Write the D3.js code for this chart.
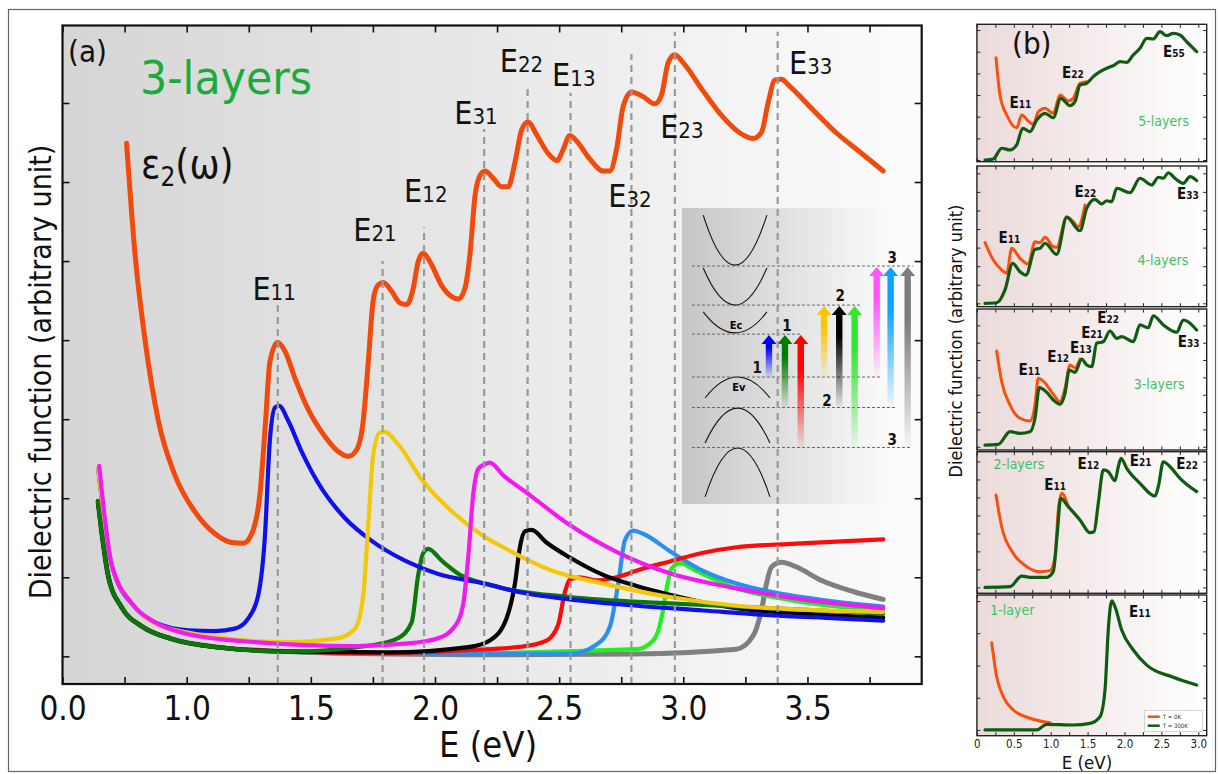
<!DOCTYPE html>
<html>
<head>
<meta charset="utf-8">
<script src="https://cdn.jsdelivr.net/npm/d3@7"></script>
<style>
body { margin: 0; background: #fff; }
svg { display: block; }
</style>
</head>
<body>
<div id="chart"></div>
<script>
"use strict";

// ---- panel (a): 3-layers, eps2 and the partial transition spectra ----
const aTickValues = [0.5, 1.0, 1.5, 2.0, 2.5, 3.0, 3.5];
const aTickLabels = ['0.0', '1.0', '1.5', '2.0', '2.5', '3.0', '3.5'];

const aOrange = [[0.758,6.49],[0.792,5.09],[0.832,4.01],[0.886,2.98],[0.953,2.29],[1.033,1.83],[1.114,1.55],[1.181,1.44],[1.228,1.43],[1.262,1.55],[1.295,2.05],[1.318,2.98],[1.335,3.72],[1.366,3.97],[1.396,3.86],[1.436,3.52],[1.490,3.12],[1.557,2.78],[1.610,2.59],[1.651,2.53],[1.684,2.61],[1.711,2.98],[1.731,3.71],[1.751,4.50],[1.769,4.69],[1.792,4.73],[1.825,4.62],[1.859,4.47],[1.886,4.45],[1.912,4.65],[1.932,4.99],[1.953,5.10],[1.980,4.99],[2.027,4.69],[2.067,4.55],[2.093,4.52],[2.120,4.65],[2.141,5.09],[2.161,5.82],[2.181,6.08],[2.201,6.14],[2.234,6.05],[2.268,5.94],[2.295,5.94],[2.322,6.25],[2.349,6.66],[2.375,6.76],[2.409,6.60],[2.456,6.36],[2.492,6.27],[2.516,6.41],[2.543,6.59],[2.570,6.52],[2.624,6.29],[2.677,6.14],[2.704,6.14],[2.731,6.41],[2.758,6.96],[2.792,7.14],[2.838,7.08],[2.885,6.99],[2.912,7.10],[2.939,7.51],[2.966,7.61],[2.999,7.51],[3.080,7.15],[3.160,6.82],[3.228,6.62],[3.281,6.55],[3.315,6.63],[3.342,7.01],[3.369,7.29],[3.395,7.30],[3.429,7.21],[3.523,6.91],[3.617,6.62],[3.711,6.38],[3.805,6.14]];

const aBlue = [[0.644,2.37],[0.698,1.16],[0.792,0.62],[0.872,0.43],[1.006,0.33],[1.114,0.32],[1.194,0.35],[1.248,0.48],[1.288,0.77],[1.315,1.51],[1.335,2.73],[1.356,3.15],[1.372,3.17],[1.409,2.98],[1.463,2.59],[1.544,2.12],[1.637,1.75],[1.745,1.46],[1.879,1.21],[2.013,1.04],[2.201,0.92],[2.342,0.81],[2.543,0.72],[2.812,0.64],[3.080,0.58],[3.348,0.52],[3.617,0.48],[3.805,0.45]];

const aYellow = [[0.644,2.37],[0.698,1.16],[0.779,0.67],[0.872,0.42],[1.006,0.30],[1.208,0.21],[1.409,0.18],[1.610,0.23],[1.678,0.35],[1.711,0.77],[1.731,1.65],[1.751,2.54],[1.778,2.83],[1.798,2.84],[1.852,2.68],[1.946,2.24],[2.080,1.80],[2.201,1.51],[2.275,1.38],[2.476,1.08],[2.677,0.92],[2.946,0.75],[3.214,0.64],[3.482,0.59],[3.805,0.56]];

const aMagenta = [[0.648,2.41],[0.698,1.16],[0.779,0.67],[0.872,0.43],[1.006,0.28],[1.275,0.18],[1.678,0.13],[1.879,0.16],[2.013,0.23],[2.080,0.38],[2.114,0.67],[2.134,1.26],[2.154,2.05],[2.174,2.37],[2.201,2.43],[2.221,2.45],[2.275,2.29],[2.382,2.04],[2.543,1.66],[2.745,1.30],[2.946,1.05],[3.214,0.86],[3.482,0.72],[3.805,0.61]];

// shared steep low-energy part of the weaker transitions
const aLowTail = [[0.643,1.96],[0.684,1.02],[0.738,0.62],[0.819,0.38],[0.94,0.22],[1.141,0.11],[1.409,0.06]];

const aDkGreen = aLowTail.concat([[1.745,0.14],[1.852,0.23],[1.906,0.43],[1.932,1.02],[1.953,1.31],[1.973,1.36],[2.027,1.21],[2.107,1.02],[2.201,0.92],[2.275,0.86],[2.543,0.75],[2.946,0.67],[3.348,0.61],[3.805,0.54]]);
const aBlack = aLowTail.concat([[1.812,0.05],[2.141,0.12],[2.221,0.20],[2.288,0.48],[2.322,0.92],[2.342,1.38],[2.362,1.58],[2.389,1.60],[2.449,1.44],[2.543,1.25],[2.677,1.03],[2.812,0.89],[2.946,0.78],[3.214,0.61],[3.482,0.54],[3.805,0.49]]);
const aRed = aLowTail.concat([[1.812,0.04],[2.141,0.08],[2.342,0.12],[2.449,0.20],[2.496,0.40],[2.523,0.81],[2.543,0.97],[2.583,1.00],[2.651,0.96],[2.731,1.00],[2.838,1.11],[2.946,1.20],[3.080,1.31],[3.214,1.38],[3.416,1.42],[3.617,1.45],[3.805,1.48]]);
const aSky = aLowTail.concat([[1.812,0.03],[2.543,0.03],[2.651,0.15],[2.704,0.37],[2.738,0.92],[2.765,1.47],[2.798,1.59],[2.838,1.55],[2.946,1.33],[3.080,1.08],[3.214,0.92],[3.416,0.78],[3.617,0.69],[3.805,0.63]]);
const aLime = aLowTail.concat([[1.812,0.03],[2.812,0.09],[2.879,0.20],[2.912,0.48],[2.933,0.86],[2.953,1.11],[2.986,1.18],[3.053,1.08],[3.214,0.86],[3.416,0.72],[3.617,0.63],[3.805,0.58]]);
const aGray = aLowTail.concat([[1.812,0.03],[2.201,0.02],[2.8,0.03],[3.214,0.09],[3.281,0.26],[3.315,0.59],[3.335,0.92],[3.355,1.13],[3.395,1.19],[3.456,1.13],[3.550,0.97],[3.684,0.82],[3.805,0.72]]);

// transition energies (dashed lines) and how high each line goes
const transNames = ['11', '21', '12', '31', '22', '13', '32', '23', '33'];
const transEnergy = [1.367, 1.789, 1.956, 2.198, 2.373, 2.546, 2.791, 2.966, 3.380];
const transTop = [4.45, 5.0, 5.43, 6.67, 7.22, 7.13, 7.62, 7.9, 7.9];

// ---- panel (b): T = 0K (orange) and T = 300K (green) for 5..1 layers ----
const bTickValues = [0, 0.5, 1.0, 1.5, 2.0, 2.5, 3.0];
const bTickLabels = ['0', '0.5', '1.0', '1.5', '2.0', '2.5', '3.0'];

const b5Orange = [[0.259,7.57],[0.313,4.85],[0.404,3.40],[0.539,2.47],[0.607,3.40],[0.696,2.96],[0.764,2.72],[0.832,3.64],[0.923,3.89],[1.035,3.52],[1.126,4.85],[1.238,4.42],[1.306,4.61],[1.397,5.71],[1.488,5.82]];
const b5Green = [[0.110,0.12],[0.222,0.20],[0.336,0.98],[0.449,0.85],[0.539,1.22],[0.621,2.43],[0.720,2.18],[0.810,3.03],[0.923,3.52],[1.035,3.20],[1.136,4.61],[1.262,4.08],[1.329,4.37],[1.397,5.58],[1.488,5.71],[1.577,6.19],[1.668,6.55],[1.759,6.80],[1.848,6.99],[1.939,7.28],[2.030,7.23],[2.119,7.77],[2.210,8.25],[2.301,8.98],[2.390,8.93],[2.481,9.46],[2.572,9.17],[2.661,9.34],[2.752,9.22],[2.843,8.73],[2.978,8.01]];

const b4Orange = [[0.110,4.55],[0.222,3.32],[0.336,2.61],[0.404,2.37],[0.472,4.15],[0.584,3.44],[0.696,3.03],[0.787,4.62],[0.855,4.55],[0.923,4.93],[1.035,4.26],[1.081,4.22],[1.217,6.40],[1.306,6.04],[1.374,5.69],[1.465,7.23]];
const b4Green = [[0.110,0.24],[0.268,0.28],[0.381,1.19],[0.485,3.08],[0.584,2.49],[0.665,2.25],[0.787,4.08],[0.855,4.15],[0.923,4.51],[1.081,3.72],[1.217,6.35],[1.397,5.40],[1.488,6.99],[1.600,7.63],[1.691,7.30],[1.759,7.53],[1.827,7.46],[1.894,8.42],[2.074,8.10],[2.210,9.13],[2.369,8.65],[2.458,9.20],[2.526,9.13],[2.593,9.52],[2.684,9.13],[2.797,8.77],[2.888,9.24],[2.978,8.96]];

const b3Orange = [[0.268,7.02],[0.336,4.84],[0.449,3.19],[0.584,2.25],[0.720,2.06],[0.787,3.19],[0.832,5.09],[0.900,4.89],[1.035,3.95],[1.126,3.43],[1.194,4.38],[1.262,6.03],[1.329,5.84],[1.397,6.45]];
const b3Green = [[0.110,0.35],[0.290,0.40],[0.449,1.30],[0.584,1.18],[0.720,1.30],[0.787,2.25],[0.846,4.42],[0.946,4.09],[1.035,3.55],[1.126,3.24],[1.194,4.02],[1.252,5.67],[1.329,5.51],[1.420,6.45],[1.488,6.03],[1.556,5.91],[1.623,7.57],[1.713,7.68],[1.803,8.44],[1.894,7.92],[1.962,8.04],[2.119,7.68],[2.210,8.87],[2.322,8.67],[2.390,9.52],[2.526,8.87],[2.707,8.35],[2.797,9.22],[2.978,8.51]];

const b2Orange = [[0.259,6.94],[0.336,4.70],[0.493,2.82],[0.675,1.88],[0.855,1.53],[0.991,1.60],[1.058,2.58],[1.103,5.88],[1.149,7.06],[1.238,6.12]];
const b2Green = [[0.110,0.42],[0.449,0.47],[0.607,1.22],[0.720,1.13],[0.946,1.13],[1.035,1.53],[1.089,4.24],[1.136,6.71],[1.238,6.12],[1.397,5.18],[1.533,4.28],[1.587,4.35],[1.645,6.36],[1.713,8.71],[1.780,8.59],[1.871,7.95],[1.916,8.94],[1.953,9.53],[2.030,8.83],[2.210,7.77],[2.413,6.87],[2.458,7.53],[2.526,9.29],[2.617,8.94],[2.752,8.12],[2.978,7.18]];

const b1Orange = [[0.201,6.61],[0.268,4.19],[0.358,2.77],[0.493,1.83],[0.720,1.24],[0.991,0.92]];
const b1Green = [[0.110,0.41],[0.810,0.41],[0.946,0.81],[1.306,0.76],[1.533,0.88],[1.668,1.35],[1.736,3.25],[1.780,7.51],[1.827,9.59],[1.871,9.17],[1.962,7.51],[2.119,6.09],[2.301,5.02],[2.661,4.15],[2.978,3.60]];

// ------------------------------------------------------------------
const FONT = "'DejaVu Sans Condensed','DejaVu Sans',sans-serif";
const W = 1218, H = 774;

const svg = d3.select('#chart').append('svg')
	.attr('width', W)
	.attr('height', H)
	.style('font-family', FONT)
	.style('font-stretch', 'condensed');
const defs = svg.append('defs');

function hGrad(id, c0, c1) {
	const g = defs.append('linearGradient').attr('id', id)
		.attr('x1', 0).attr('x2', 1).attr('y1', 0).attr('y2', 0);
	g.append('stop').attr('offset', 0).attr('stop-color', c0);
	g.append('stop').attr('offset', 1).attr('stop-color', c1);
}
hGrad('bgA', '#d5d5d5', '#fcfcfc');
hGrad('bgB', '#ebdada', '#ffffff');
hGrad('bgI', '#c6c6c6', '#fbfbfb');

// outer frame
svg.append('rect')
	.attr('x', 8.5).attr('y', 9.5)
	.attr('width', 1207).attr('height', 762)
	.attr('fill', '#fff').attr('stroke', '#666').attr('stroke-width', 1.2);

// E with small digits, e.g. E11
function eLabel(g, x, y, sub, big, small, weight) {
	const t = g.append('text')
		.attr('x', x).attr('y', y)
		.attr('text-anchor', 'middle')
		.attr('font-weight', weight || 'normal')
		.attr('fill', '#111');
	t.append('tspan').attr('font-size', big).text('E');
	t.append('tspan').attr('font-size', small).text(sub);
	return t;
}

// ================= panel (a) =================
const PA = { left: 62.5, right: 921.7, top: 25.5, bottom: 684 };
const xA = d3.scaleLinear().domain([0.5, 3.96]).range([PA.left, PA.right]);
const yA = d3.scaleLinear().domain([-0.35, 7.98]).range([PA.bottom, PA.top]);

const gA = svg.append('g');
gA.append('rect')
	.attr('x', PA.left).attr('y', PA.top)
	.attr('width', PA.right - PA.left).attr('height', PA.bottom - PA.top)
	.attr('fill', 'url(#bgA)');

defs.append('clipPath').attr('id', 'clipA').append('rect')
	.attr('x', PA.left).attr('y', PA.top)
	.attr('width', PA.right - PA.left).attr('height', PA.bottom - PA.top);

// -- inset: band sketch with the allowed transitions --
const xI = d3.scaleLinear().domain([0, 100]).range([682, 890]);
const yI = d3.scaleLinear().domain([0, 100]).range([208, 504]);
const gI = gA.append('g');
gI.append('rect')
	.attr('x', xI(0)).attr('y', yI(0))
	.attr('width', xI(100) - xI(0)).attr('height', yI(100) - yI(0))
	.attr('fill', 'url(#bgI)');

// conduction bands (vertex, rim) and valence bands (vertex, rim), inset units
const cBands = [[19.3, 2.4], [32.8, 20.3], [42.2, 35.1]];
const vBands = [[57.1, 64.2], [67.6, 79.4], [81.1, 97.6]];
function bandPath(cx, hw, vy, ry) {
	const ctrl = 2 * yI(vy) - yI(ry);
	return `M${xI(cx - hw)},${yI(ry)}Q${xI(cx)},${ctrl} ${xI(cx + hw)},${yI(ry)}`;
}
gI.selectAll('path.cb').data(cBands).enter().append('path')
	.attr('class', 'cb')
	.attr('d', d => bandPath(25.5, 15.3, d[0], d[1]))
	.attr('fill', 'none').attr('stroke', '#111').attr('stroke-width', 1.1);
gI.selectAll('path.vb').data(vBands).enter().append('path')
	.attr('class', 'vb')
	.attr('d', d => bandPath(26.7, 15.6, d[0], d[1]))
	.attr('fill', 'none').attr('stroke', '#111').attr('stroke-width', 1.1);

// level lines: conduction 3,2,1 then valence 1,2,3
const levelY = [19.6, 32.8, 42.6, 57.1, 67.4, 80.9];
const levelEnd = [111, 85.6, 57.7, 95.2, 103.4, 109.6];
gI.selectAll('line.lvl').data(levelY).enter().append('line')
	.attr('class', 'lvl')
	.attr('x1', xI(4.8)).attr('x2', (d, i) => xI(levelEnd[i]))
	.attr('y1', d => yI(d)).attr('y2', d => yI(d))
	.attr('stroke', '#666').attr('stroke-width', 1).attr('stroke-dasharray', '3,2');

// arrows: x (inset units), from valence level, to conduction level, colour
const arrowX = [41.8, 49.5, 57.1, 68.3, 75.6, 83.0, 93.6, 100.3, 108.5];
const arrowFrom = [3, 4, 5, 3, 4, 5, 3, 4, 5];
const arrowTo = [2, 2, 2, 1, 1, 1, 0, 0, 0];
const arrowColor = ['#0000ff', '#007c00', '#ff0000', '#ffc400', '#000000', '#2ee82e', '#ff55ff', '#0ca2ff', '#7d7d7d'];
arrowColor.forEach((c, i) => {
	const gr = defs.append('linearGradient').attr('id', 'arr' + i)
		.attr('x1', 0).attr('x2', 0).attr('y1', 0).attr('y2', 1);
	gr.append('stop').attr('offset', 0).attr('stop-color', c).attr('stop-opacity', 1);
	gr.append('stop').attr('offset', 0.3).attr('stop-color', c).attr('stop-opacity', 1);
	gr.append('stop').attr('offset', 1).attr('stop-color', c).attr('stop-opacity', 0.04);
});
gI.selectAll('path.arr').data(arrowX).enter().append('path')
	.attr('class', 'arr')
	.attr('d', (d, i) => {
		const x = xI(d), yb = yI(levelY[arrowFrom[i]]), yt = yI(levelY[arrowTo[i]]) + 1;
		return `M${x - 3.2},${yb}L${x - 3.2},${yt + 9}L${x - 7.5},${yt + 9}L${x},${yt}L${x + 7.5},${yt + 9}L${x + 3.2},${yt + 9}L${x + 3.2},${yb}Z`;
	})
	.attr('fill', (d, i) => `url(#arr${i})`);

const insetNums = [['1', 36.1, 54.1], ['1', 50.5, 39.9], ['2', 76, 29.7], ['2', 69.7, 65.2], ['3', 101, 16.9], ['3', 101, 78.4]];
gI.selectAll('text.num').data(insetNums).enter().append('text')
	.attr('class', 'num')
	.attr('x', d => xI(d[1])).attr('y', d => yI(d[2]))
	.attr('text-anchor', 'middle').attr('dominant-baseline', 'central')
	.attr('font-size', 15).attr('font-weight', 'bold').attr('fill', '#111')
	.text(d => d[0]);
gI.append('text').attr('x', xI(26)).attr('y', yI(39.6))
	.attr('text-anchor', 'middle').attr('dominant-baseline', 'central')
	.attr('font-size', 11).attr('font-weight', 'bold').text('Ec');
gI.append('text').attr('x', xI(27.3)).attr('y', yI(60.6))
	.attr('text-anchor', 'middle').attr('dominant-baseline', 'central')
	.attr('font-size', 11).attr('font-weight', 'bold').text('Ev');

// -- spectra --
const lineA = d3.line()
	.x(d => xA(d[0]))
	.y(d => yA(d[1]))
	.curve(d3.curveMonotoneX);

const seriesA = [
	{ data: aGray, color: '#7f7f7f', w: 5 },
	{ data: aLime, color: '#22ee22', w: 4.2 },
	{ data: aSky, color: '#2b8ff0', w: 4.2 },
	{ data: aRed, color: '#ff0a0a', w: 4.2 },
	{ data: aBlack, color: '#050505', w: 4.2 },
	{ data: aDkGreen, color: '#0b780b', w: 4.2 },
	{ data: aBlue, color: '#1010e8', w: 4.2 },
	{ data: aYellow, color: '#f2c80a', w: 4.2 },
	{ data: aMagenta, color: '#f21af2', w: 4.2 },
	{ data: aOrange, color: '#f24a0c', w: 5 }
];
const gCurves = gA.append('g').attr('clip-path', 'url(#clipA)');
gCurves.selectAll('path.spec').data(seriesA).enter().append('path')
	.attr('class', 'spec')
	.attr('d', d => lineA(d.data))
	.attr('fill', 'none')
	.attr('stroke', d => d.color)
	.attr('stroke-width', d => d.w)
	.attr('stroke-linejoin', 'round')
	.attr('stroke-linecap', 'round');

// dashed transition lines
gA.selectAll('line.trans').data(transEnergy).enter().append('line')
	.attr('class', 'trans')
	.attr('x1', d => xA(d)).attr('x2', d => xA(d))
	.attr('y1', PA.bottom).attr('y2', (d, i) => yA(transTop[i]))
	.attr('stroke', '#999').attr('stroke-width', 2.2)
	.attr('stroke-dasharray', '7,5');

// transition labels: centre energy, baseline value
const transLabelE = [1.352, 1.758, 1.963, 2.165, 2.348, 2.559, 2.785, 2.994, 3.513];
const transLabelV = [4.51, 5.25, 5.75, 6.73, 7.39, 7.22, 5.68, 6.56, 7.37];
transNames.forEach((n, i) => eLabel(gA, xA(transLabelE[i]), yA(transLabelV[i]), n, 32, 22));

// texts
gA.append('text').attr('x', 68).attr('y', 62).attr('font-size', 31).attr('fill', '#111').text('(a)');
gA.append('text').attr('x', 140).attr('y', 94).attr('font-size', 46)
	.attr('textLength', 172).attr('lengthAdjust', 'spacingAndGlyphs')
	.attr('fill', '#1aab3a').text('3-layers');
const eps = gA.append('text').attr('x', 141).attr('y', 178).attr('font-size', 40).attr('fill', '#111');
eps.append('tspan').text('ε');
eps.append('tspan').attr('font-size', 26).attr('dy', 8).text('2');
eps.append('tspan').attr('dy', -8).text('(ω)');

// axes
const tickStyle = g => {
	g.select('.domain').remove();
	g.selectAll('.tick line').attr('stroke', '#111').attr('stroke-width', 1.6);
};
gA.append('g').attr('transform', `translate(0,${PA.bottom})`)
	.call(d3.axisBottom(xA).tickValues(d3.range(0.5, 3.9, 0.25)).tickSize(-7).tickFormat(''))
	.call(tickStyle);
gA.append('g').attr('transform', `translate(0,${PA.bottom})`)
	.call(d3.axisBottom(xA).tickValues(aTickValues).tickSize(0).tickPadding(13)
		.tickFormat((d, i) => aTickLabels[i]))
	.call(g => g.select('.domain').remove())
	.call(g => g.selectAll('text').attr('font-size', 33).attr('fill', '#111').attr('font-family', FONT));
gA.append('g').attr('transform', `translate(0,${PA.top})`)
	.call(d3.axisTop(xA).tickValues(d3.range(0.5, 3.9, 0.25)).tickSize(-7).tickFormat(''))
	.call(tickStyle);
gA.append('g').attr('transform', `translate(${PA.left},0)`)
	.call(d3.axisLeft(yA).tickValues(d3.range(0, 8)).tickSize(-7).tickFormat(''))
	.call(tickStyle);
gA.append('g').attr('transform', `translate(${PA.right},0)`)
	.call(d3.axisRight(yA).tickValues(d3.range(0, 8)).tickSize(-7).tickFormat(''))
	.call(tickStyle);
gA.append('rect')
	.attr('x', PA.left).attr('y', PA.top)
	.attr('width', PA.right - PA.left).attr('height', PA.bottom - PA.top)
	.attr('fill', 'none').attr('stroke', '#111').attr('stroke-width', 2.2);

gA.append('text').attr('x', 488).attr('y', 757)
	.attr('text-anchor', 'middle').attr('font-size', 36).attr('fill', '#111').text('E (eV)');
gA.append('text')
	.attr('transform', 'translate(40,372) rotate(-90)')
	.attr('text-anchor', 'middle').attr('dominant-baseline', 'central')
	.attr('font-size', 30).attr('fill', '#111')
	.text('Dielectric function (arbitrary unit)');

// ================= panel (b) =================
const PB = { left: 976.9, right: 1206.7 };
const xB = d3.scaleLinear().domain([0, 3.114]).range([PB.left, PB.right]);

const layersB = [
	{ top: 24.3, bottom: 161.7, orange: b5Orange, green: b5Green, t0: 0.12, step: 1.577,
		name: '5-layers', nameAt: [2.53, 2.60], marks: [['11', 0.59, 3.91], ['22', 1.30, 6.09], ['55', 2.67, 7.62]] },
	{ top: 166, bottom: 306.7, orange: b4Orange, green: b4Green, t0: 0.24, step: 1.32,
		name: '4-layers', nameAt: [2.52, 2.96], marks: [['11', 0.44, 4.55], ['22', 1.47, 7.82], ['33', 2.86, 7.63]] },
	{ top: 309, bottom: 450, orange: b3Orange, green: b3Green, t0: 0.23, step: 1.23,
		name: '3-layers', nameAt: [2.47, 4.33], marks: [['11', 0.71, 5.32], ['12', 1.10, 6.24], ['13', 1.41, 6.88], ['21', 1.56, 7.94], ['22', 1.78, 9.01], ['33', 2.87, 7.30]] },
	{ top: 451.7, bottom: 593.3, orange: b2Orange, green: b2Green, t0: 0.42, step: 1.27,
		name: '2-layers', nameAt: [0.57, 8.78], marks: [['11', 1.06, 7.30], ['12', 1.51, 8.78], ['21', 2.22, 8.99], ['22', 2.85, 8.78]] },
	{ top: 595, bottom: 735.7, orange: b1Orange, green: b1Green, t0: 0.41, step: 2.29,
		name: '1-layer', nameAt: [0.48, 8.58], marks: [['11', 2.21, 8.44]] }
];

const gB = svg.append('g');
layersB.forEach((L, k) => {
	const yB = d3.scaleLinear().domain([0, 10]).range([L.bottom, L.top]);
	const g = gB.append('g');
	g.append('rect')
		.attr('x', PB.left).attr('y', L.top)
		.attr('width', PB.right - PB.left).attr('height', L.bottom - L.top)
		.attr('fill', 'url(#bgB)');
	defs.append('clipPath').attr('id', 'clipB' + k).append('rect')
		.attr('x', PB.left).attr('y', L.top)
		.attr('width', PB.right - PB.left).attr('height', L.bottom - L.top);

	const lineB = d3.line().x(d => xB(d[0])).y(d => yB(d[1])).curve(d3.curveMonotoneX);
	const gc = g.append('g').attr('clip-path', `url(#clipB${k})`);
	gc.append('path').attr('d', lineB(L.orange))
		.attr('fill', 'none').attr('stroke', '#f7500f').attr('stroke-width', 3).attr('stroke-linecap', 'round');
	gc.append('path').attr('d', lineB(L.green))
		.attr('fill', 'none').attr('stroke', '#0e5c12').attr('stroke-width', 3.2).attr('stroke-linecap', 'round');

	const yt = d3.range(L.t0, 10, L.step);
	const xt = d3.range(0, 3.1, 0.25);
	const small = g2 => {
		g2.select('.domain').remove();
		g2.selectAll('.tick line').attr('stroke', '#222').attr('stroke-width', 1);
	};
	g.append('g').attr('transform', `translate(${PB.left},0)`)
		.call(d3.axisLeft(yB).tickValues(yt).tickSize(-3.5).tickFormat('')).call(small);
	g.append('g').attr('transform', `translate(${PB.right},0)`)
		.call(d3.axisRight(yB).tickValues(yt).tickSize(-3.5).tickFormat('')).call(small);
	g.append('g').attr('transform', `translate(0,${L.top})`)
		.call(d3.axisTop(xB).tickValues(xt).tickSize(-3.5).tickFormat('')).call(small);
	g.append('g').attr('transform', `translate(0,${L.bottom})`)
		.call(d3.axisBottom(xB).tickValues(xt).tickSize(-3.5).tickFormat('')).call(small);
	g.append('rect')
		.attr('x', PB.left).attr('y', L.top)
		.attr('width', PB.right - PB.left).attr('height', L.bottom - L.top)
		.attr('fill', 'none').attr('stroke', '#222').attr('stroke-width', 1.4);

	g.append('text').attr('x', xB(L.nameAt[0])).attr('y', yB(L.nameAt[1]))
		.attr('text-anchor', 'middle').attr('font-size', 14).attr('fill', '#3cc262').text(L.name);
	L.marks.forEach(m => eLabel(g, xB(m[1]), yB(m[2]), m[0], 15, 10, 'bold'));

	if (k === layersB.length - 1) {
		// legend
		const lg = g.append('g').attr('transform', `translate(${PB.right - 62},${L.bottom - 25})`);
		lg.append('rect').attr('width', 58).attr('height', 21)
			.attr('fill', '#fff').attr('stroke', '#bbb').attr('stroke-width', 0.6);
		const items = [['T = 0K', '#f7500f'], ['T = 300K', '#0e5c12']];
		items.forEach((it, i) => {
			lg.append('line').attr('x1', 3).attr('x2', 15).attr('y1', 6 + i * 9).attr('y2', 6 + i * 9)
				.attr('stroke', it[1]).attr('stroke-width', 2.5);
			lg.append('text').attr('x', 18).attr('y', 8 + i * 9).attr('font-size', 6).attr('fill', '#333').text(it[0]);
		});
		g.append('g').attr('transform', `translate(0,${L.bottom})`)
			.call(d3.axisBottom(xB).tickValues(bTickValues).tickSize(0).tickPadding(4)
				.tickFormat((d, i) => bTickLabels[i]))
			.call(g2 => g2.select('.domain').remove())
			.call(g2 => g2.selectAll('text').attr('font-size', 11.5).attr('fill', '#222').attr('font-family', FONT));
	}
});

gB.append('text').attr('x', 1012).attr('y', 54).attr('font-size', 31).attr('fill', '#111').text('(b)');
gB.append('text').attr('x', 1087).attr('y', 768.5)
	.attr('text-anchor', 'middle').attr('font-size', 18.5).attr('fill', '#111').text('E (eV)');
gB.append('text')
	.attr('transform', 'translate(955,341) rotate(-90)')
	.attr('text-anchor', 'middle').attr('dominant-baseline', 'central')
	.attr('font-size', 18).attr('fill', '#111')
	.text('Dielectric function (arbitrary unit)');
</script>
</body>
</html>
